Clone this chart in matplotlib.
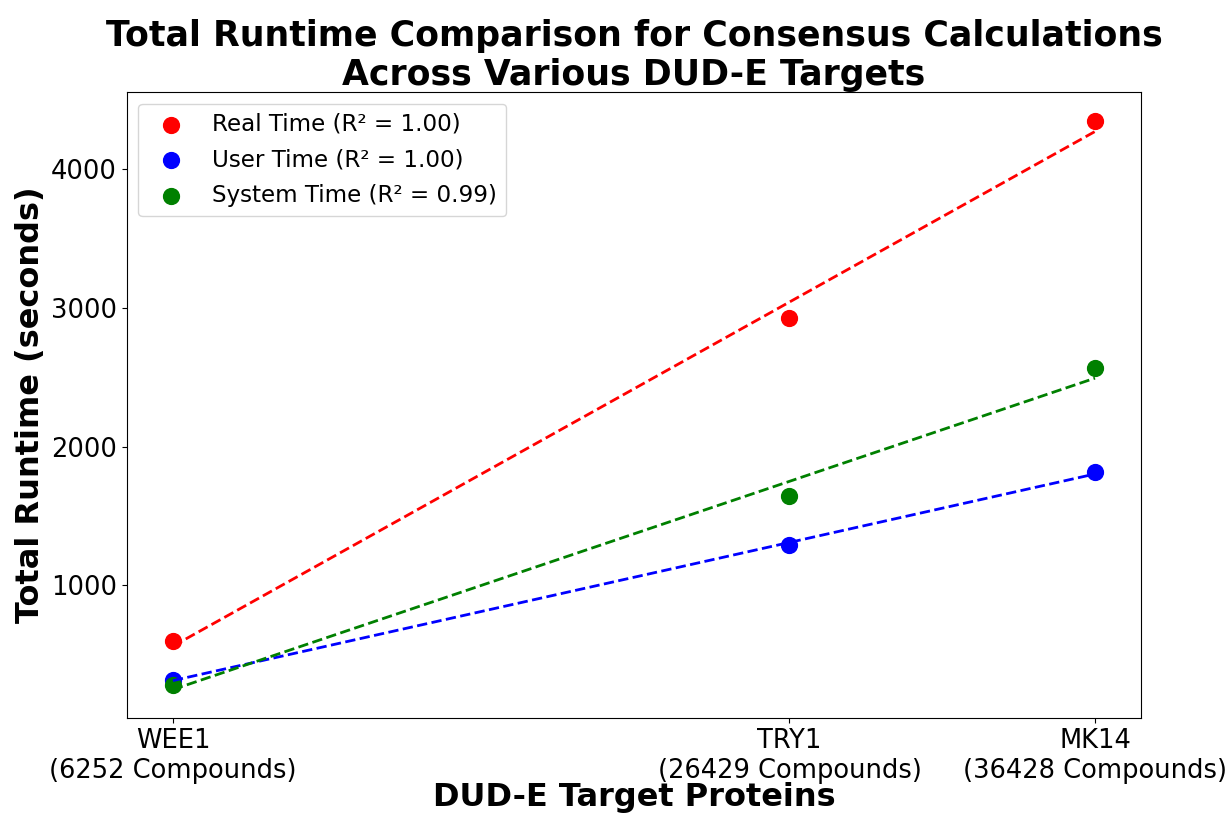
import numpy as np
import matplotlib
matplotlib.use("Agg")
import matplotlib.pyplot as plt

targets = ["WEE1", "TRY1", "MK14"]
compounds = [6252, 26429, 36428]
real_time = [598, 2925, 4353]
user_time = [317, 1288, 1815]
system_time = [281, 1642, 2565]

series = [
    ("Real Time", real_time, "red"),
    ("User Time", user_time, "blue"),
    ("System Time", system_time, "green"),
]

fig = plt.figure(figsize=(12.31, 8.15), dpi=100)
ax = fig.add_axes([0.103, 0.119, 0.824, 0.768])

x = np.array(compounds, dtype=float)
for name, vals, col in series:
    y = np.array(vals, dtype=float)
    slope, intercept = np.polyfit(x, y, 1)
    fit = slope * x + intercept
    r2 = 1 - np.sum((y - fit) ** 2) / np.sum((y - y.mean()) ** 2)
    ax.scatter(x, y, color=col, s=130, label=f"{name} (R\u00b2 = {r2:.2f})")
    ax.plot(x, fit, color=col, linestyle="--", linewidth=2)

ax.set_xticks(compounds)
ax.set_xticklabels([f"{t}\n({c} Compounds)" for t, c in zip(targets, compounds)], fontsize=18.5)
ax.tick_params(axis="y", labelsize=18.5)
ax.set_xlabel("DUD-E Target Proteins", fontsize=23, fontweight="bold", labelpad=-1.5)
ax.set_ylabel("Total Runtime (seconds)", fontsize=23, fontweight="bold")
ax.set_title("Total Runtime Comparison for Consensus Calculations\nAcross Various DUD-E Targets",
             fontsize=25, fontweight="bold", pad=5)
ax.legend(fontsize=16.6, loc="upper left", labelspacing=0.55)

fig.savefig("out.png", dpi=100)
